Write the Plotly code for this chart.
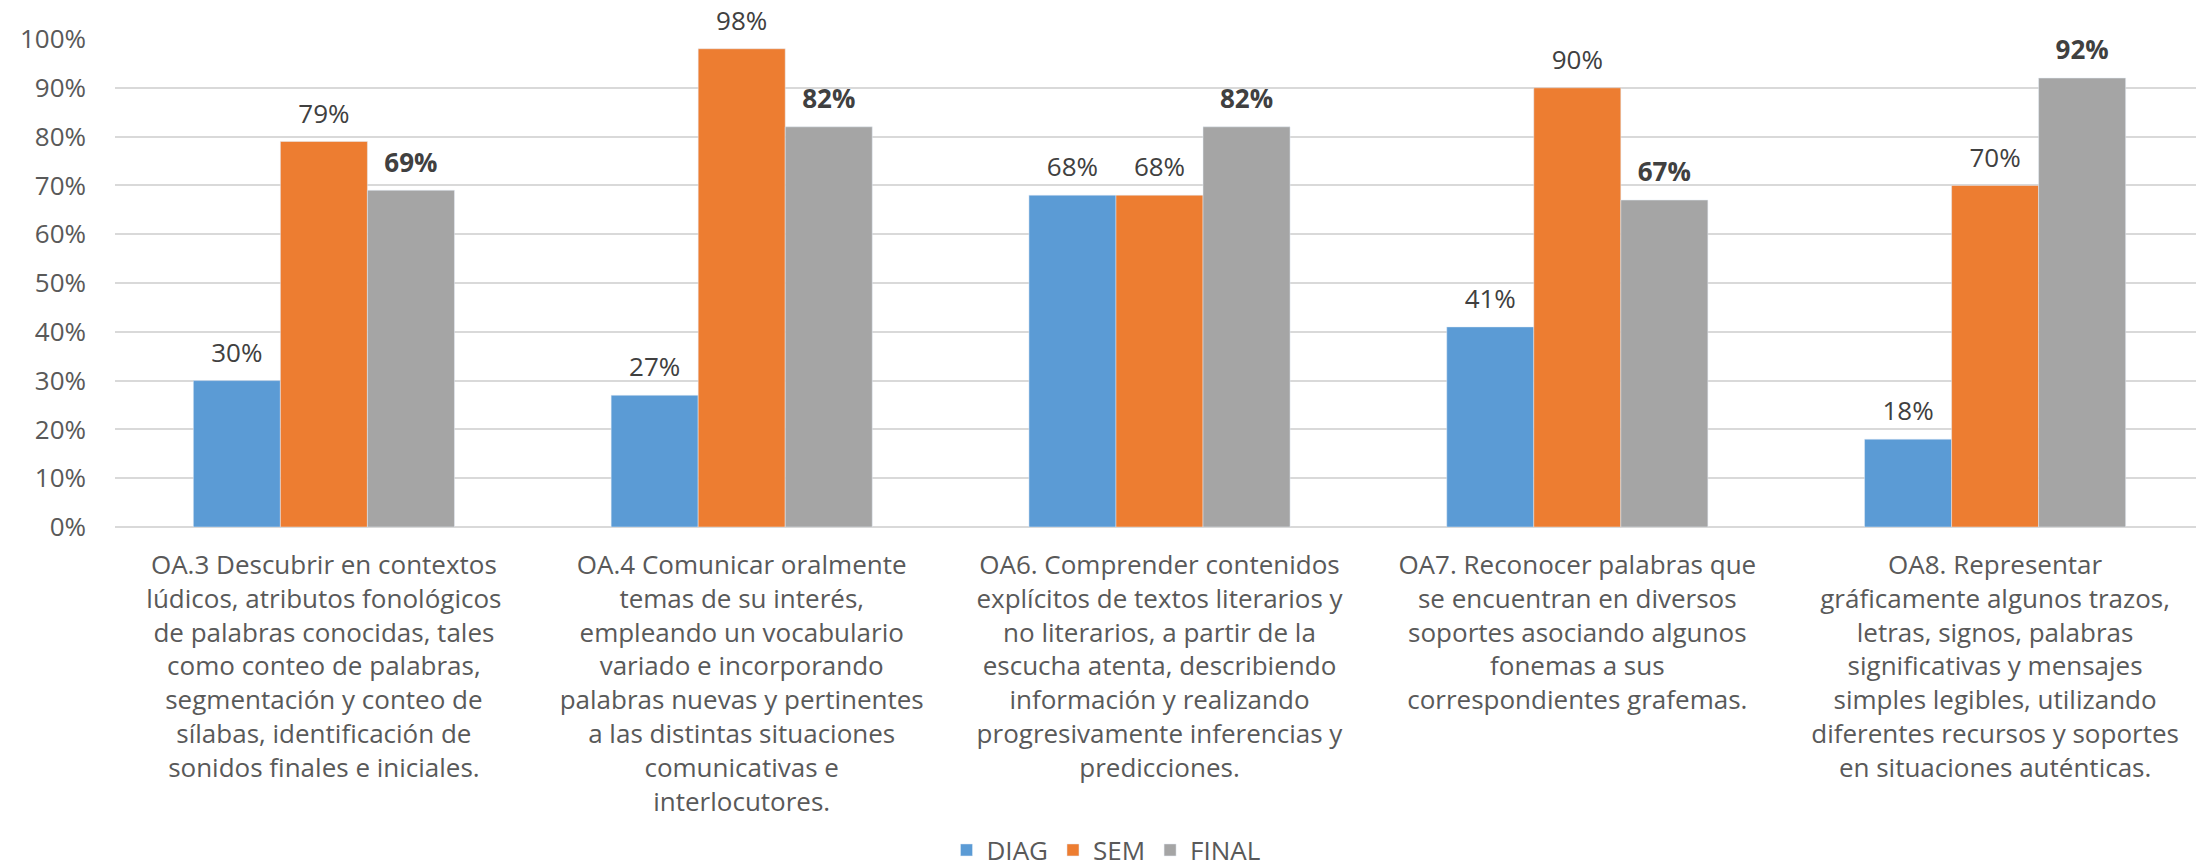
import plotly.graph_objects as go

# categorías (etiquetas del eje x, con saltos de línea como en el original)
categorias = [
    "OA.3 Descubrir en contextos<br>lúdicos, atributos fonológicos<br>de palabras conocidas, tales<br>como conteo de palabras,<br>segmentación y conteo de<br>sílabas, identificación de<br>sonidos finales e iniciales.",
    "OA.4 Comunicar oralmente<br>temas de su interés,<br>empleando un vocabulario<br>variado e incorporando<br>palabras nuevas y pertinentes<br>a las distintas situaciones<br>comunicativas e<br>interlocutores.",
    "OA6. Comprender contenidos<br>explícitos de textos literarios y<br>no literarios, a partir de la<br>escucha atenta, describiendo<br>información y realizando<br>progresivamente inferencias y<br>predicciones.",
    "OA7. Reconocer palabras que<br>se encuentran en diversos<br>soportes asociando algunos<br>fonemas a sus<br>correspondientes grafemas.",
    "OA8. Representar<br>gráficamente algunos trazos,<br>letras, signos, palabras<br>significativas y mensajes<br>simples legibles, utilizando<br>diferentes recursos y soportes<br>en situaciones auténticas.",
]
diag = [0.30, 0.27, 0.68, 0.41, 0.18]
sem = [0.79, 0.98, 0.68, 0.90, 0.70]
final = [0.69, 0.82, 0.82, 0.67, 0.92]

series = [
    ("DIAG", diag, "#5B9BD5", "%{y:.0%}"),
    ("SEM", sem, "#ED7D31", "%{y:.0%}"),
    ("FINAL", final, "#A5A5A5", "<b>%{y:.0%}</b>"),
]

fig = go.Figure()
for nombre, valores, color, plantilla in series:
    fig.add_trace(go.Bar(x=categorias, y=valores, name=nombre, marker_color=color,
                         offsetgroup=nombre))
# etiquetas de datos: texto encima de cada barra
for nombre, valores, color, plantilla in series:
    fig.add_trace(go.Scatter(x=categorias, y=valores, mode="markers+text", offsetgroup=nombre,
                             marker=dict(size=18, opacity=0), texttemplate=plantilla,
                             textposition="top center", showlegend=False, hoverinfo="skip",
                             cliponaxis=False,
                             textfont=dict(family="Open Sans", size=26, color="#404040")))

# la página html deja 8px de margen, por eso la figura es 8px más pequeña
fig.update_layout(
    width=2196, height=857,
    margin=dict(l=107, r=0, t=31, b=338, autoexpand=False),
    plot_bgcolor="white", paper_bgcolor="white",
    barmode="group", bargap=0.375, bargroupgap=0,
    scattermode="group", scattergap=0.375,
    font=dict(family="Open Sans", size=26, color="#595959"),
    legend=dict(orientation="h", xref="container", x=0.5, xanchor="center",
                y=-0.662, yanchor="middle",
                font=dict(size=26, color="#595959"), traceorder="normal"),
)
fig.update_yaxes(range=[0, 1], dtick=0.1, tickformat=".0%", gridcolor="#D9D9D9", gridwidth=2,
                 zeroline=True, zerolinecolor="#D9D9D9", zerolinewidth=2, ticklabelstandoff=28,
                 tickfont=dict(size=26), automargin=False)
fig.update_xaxes(showgrid=False, tickangle=0, tickfont=dict(size=26), ticklabelstandoff=20,
                 automargin=False)

fig.write_html("out.html")
